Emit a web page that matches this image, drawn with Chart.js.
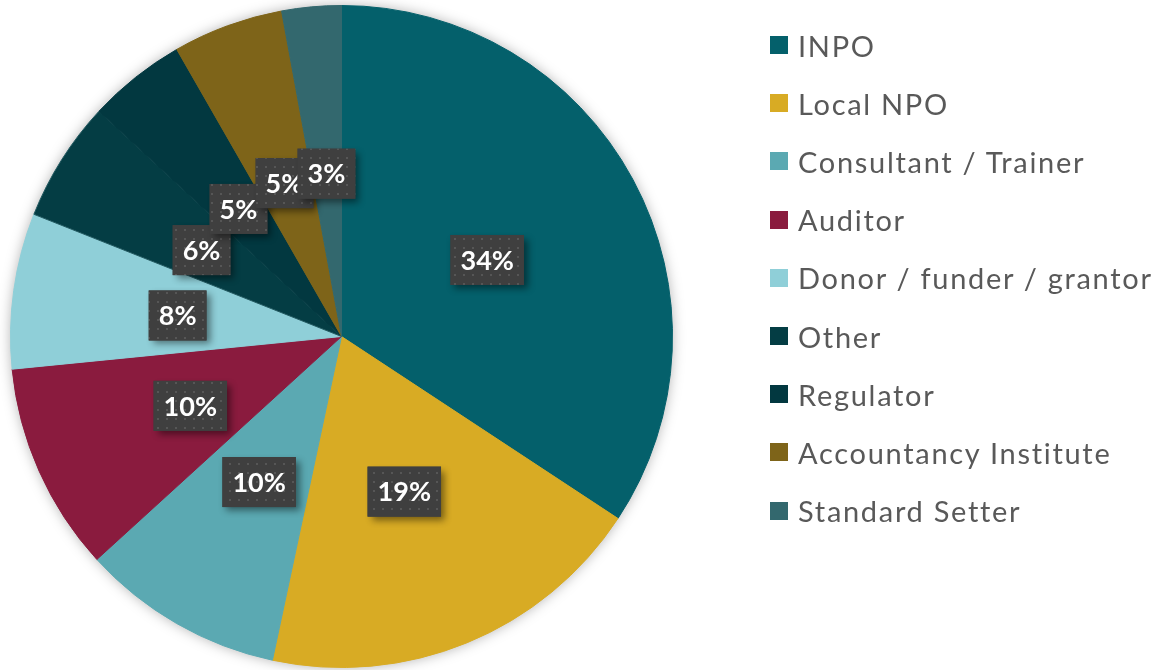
<!DOCTYPE html>
<html>
<head>
<meta charset="utf-8">
<script src="https://cdn.jsdelivr.net/npm/chart.js@4"></script>
<style>
  body { margin: 0; background: #fff; }
  #wrap { position: relative; width: 1161px; height: 670px; }
  #wrap canvas { position: absolute; left: 0; top: 0; }
  #leyenda { position: absolute; left: 770px; top: 16px; font-family: Lato, sans-serif; font-size: 29px; letter-spacing: 1.7px; color: #595959; }
  .item { height: 58.2px; display: flex; align-items: center; white-space: nowrap; }
  .caja { width: 18px; height: 18px; margin-right: 10px; flex: none; }
</style>
</head>
<body>
<div id="wrap">
  <canvas id="graficoTipos" width="1161" height="670"></canvas>
  <div id="leyenda"></div>
</div>
<script>
// ----------------------
// DATOS
// ----------------------
const categorias = [
  'INPO', 'Local NPO', 'Consultant / Trainer', 'Auditor', 'Donor / funder / grantor',
  'Other', 'Regulator', 'Accountancy Institute', 'Standard Setter'
];
const valores = [34.3, 19.1, 9.9, 10.2, 7.6, 5.9, 4.8, 5.4, 2.9];
const colores = [
  '#04606B', '#D8AB24', '#5BA9B2', '#8A1B3E', '#8FCFD8',
  '#043D44', '#023840', '#7E6419', '#33686E'
];
const bordes = [
  '#04606B', '#D8AB24', '#5BA9B2', '#8A1B3E', '#8FCFD8',
  '#235A61', '#023840', '#7E6419', '#33686E'
];

const total = valores.reduce((a, b) => a + b, 0);

// patron de puntos para las etiquetas
function crearPatron(ctx) {
  const p = document.createElement('canvas');
  p.width = 9; p.height = 9;
  const c = p.getContext('2d');
  c.fillStyle = '#3F3F3F';
  c.fillRect(0, 0, 9, 9);
  c.fillStyle = '#565656';
  c.fillRect(4, 4, 2, 2);
  return ctx.createPattern(p, 'repeat');
}

// sombra suave detras del pastel
const sombraPastel = {
  id: 'sombraPastel',
  beforeDatasetsDraw(chart) {
    const arc = chart.getDatasetMeta(0).data[0];
    if (!arc) return;
    const ctx = chart.ctx;
    ctx.save();
    ctx.shadowColor = 'rgba(0,0,0,0.35)';
    ctx.shadowBlur = 14;
    ctx.fillStyle = '#ffffff';
    ctx.beginPath();
    ctx.arc(arc.x, arc.y, arc.outerRadius - 1, 0, Math.PI * 2);
    ctx.fill();
    ctx.restore();
  }
};

// etiquetas de porcentaje
const etiquetas = {
  id: 'etiquetas',
  afterDatasetsDraw(chart) {
    const ctx = chart.ctx;
    const patron = crearPatron(ctx);
    const meta = chart.getDatasetMeta(0);
    ctx.save();
    ctx.font = 'bold 27px Lato, sans-serif';
    ctx.textAlign = 'center';
    ctx.textBaseline = 'middle';
    meta.data.forEach((arc, i) => {
      const pos = arc.tooltipPosition();
      const texto = Math.round(valores[i] / total * 100) + '%';
      const w = ctx.measureText(texto).width + 20;
      const h = 50;
      const x = pos.x - w / 2, y = pos.y - h / 2 + 2;
      ctx.save();
      ctx.shadowColor = 'rgba(0,0,0,0.45)';
      ctx.shadowBlur = 7;
      ctx.shadowOffsetX = 4;
      ctx.shadowOffsetY = 4;
      ctx.fillStyle = '#3F3F3F';
      ctx.fillRect(x, y, w, h);
      ctx.restore();
      ctx.fillStyle = patron;
      ctx.fillRect(x, y, w, h);
      ctx.fillStyle = '#ffffff';
      ctx.fillText(texto, pos.x, y + h / 2 + 1);
    });
    ctx.restore();
  }
};

const canvas = document.getElementById('graficoTipos');
const chart = new Chart(canvas.getContext('2d'), {
  type: 'pie',
  data: {
    labels: categorias,
    datasets: [{
      data: valores,
      backgroundColor: colores,
      borderColor: bordes,
      borderWidth: 1
    }]
  },
  options: {
    responsive: false,
    animation: false,
    layout: { padding: { left: 9, top: 5, bottom: 2, right: 487 } },
    plugins: {
      legend: { display: false },
      tooltip: { enabled: false }
    }
  },
  plugins: [sombraPastel, etiquetas]
});

// Leyenda
const contenedor = document.getElementById('leyenda');
categorias.forEach((label, i) => {
  const div = document.createElement('div');
  div.className = 'item';
  div.innerHTML = `<span class="caja" style="background:${colores[i]}"></span><span>${label}</span>`;
  contenedor.appendChild(div);
});
</script>
</body>
</html>
